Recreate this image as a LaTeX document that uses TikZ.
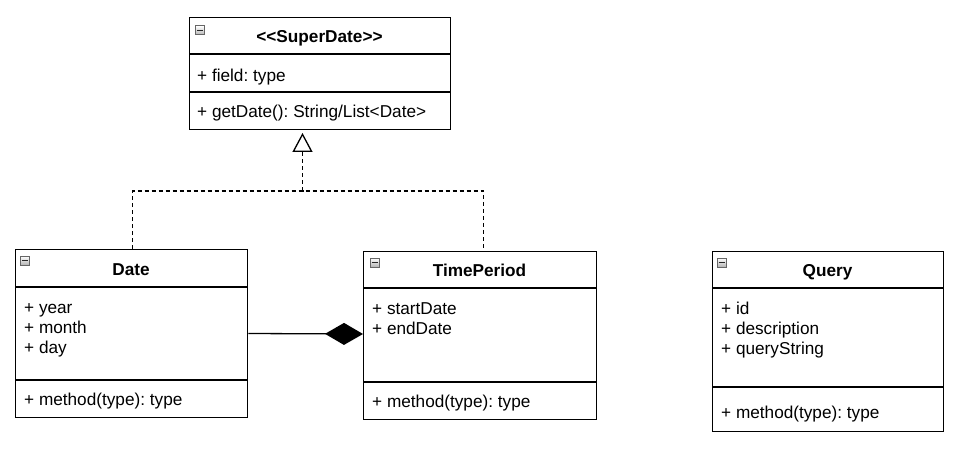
\documentclass[tikz,border=0pt]{standalone}
\usepackage{fontspec}
\setmainfont{Liberation Sans}
\usetikzlibrary{arrows.meta,calc}
\frenchspacing
\tikzset{
  classbox/.style={draw=black, line width=1.3pt, fill=white, anchor=north west, inner sep=0pt},
  compsep/.style={draw=black, line width=1.3pt},
  attr/.style={anchor=mid west, inner sep=0pt, text=black, font=\fontsize{17.2}{20}\selectfont},
  ctitle/.style={anchor=mid, inner sep=0pt, text=black, font=\fontsize{17.2}{20}\selectfont\bfseries},
  iconbox/.style={draw=black!60, line width=1pt, top color=white, bottom color=black!30, minimum size=9pt, inner sep=0pt, anchor=north west},
  iconbar/.style={draw=black!85, line width=1.8pt},
  dashline/.style={draw=black, line width=1.3pt, dash pattern=on 4pt off 3pt},
  compose/.style={draw=black, line width=1.3pt, -{Diamond[length=38pt,width=22pt,fill=black]}},
  realize/.style={dashline, -{Triangle[open,length=19pt,width=20pt,line width=1.3pt]}}
}
\newcommand\umlicon[3]{%
  \node[iconbox] (#1) at (#2,#3) {};
  \draw[iconbar] ($(#1.west)+(2,0)$) -- ($(#1.east)+(-2,0)$);
}
\begin{document}
\begin{tikzpicture}[x=1pt,y=-1pt]
\useasboundingbox[fill=white] (0,0) rectangle (971,449);

% SuperDate
\node[classbox, minimum width=261pt, minimum height=112pt] (super) at (189,17) {};
\draw[compsep] (super.west |- 0,54) -- (super.east |- 0,54);
\draw[compsep] (super.west |- 0,92) -- (super.east |- 0,92);
\umlicon{isuper}{194.5}{25.5}
\node[ctitle] (tsuper) at (319.5,40) {<{}<SuperDate>{}>};
\node[attr] (asuper) at (197,78.5) {+ field: type};
\node[attr] (msuper) at (197,115) {+ getDate(): String/List<Date>};

% Date
\node[classbox, minimum width=232pt, minimum height=168pt] (date) at (15,249) {};
\draw[compsep] (date.west |- 0,287) -- (date.east |- 0,287);
\draw[compsep] (date.west |- 0,380) -- (date.east |- 0,380);
\umlicon{idate}{19.5}{255.5}
\node[ctitle] (tdate) at (131,272.5) {Date};
\node[attr] (adate1) at (24,311) {+ year};
\node[attr] (adate2) at (24,331) {+ month};
\node[attr] (adate3) at (24,351) {+ day};
\node[attr] (mdate) at (24,402.5) {+ method(type): type};

% TimePeriod
\node[classbox, minimum width=233pt, minimum height=168pt] (tp) at (363,251) {};
\draw[compsep] (tp.west |- 0,288) -- (tp.east |- 0,288);
\draw[compsep] (tp.west |- 0,382) -- (tp.east |- 0,382);
\umlicon{itp}{369.5}{257.5}
\node[ctitle] (ttp) at (479.5,274) {TimePeriod};
\node[attr] (atp1) at (372,311.5) {+ startDate};
\node[attr] (atp2) at (372,331.5) {+ endDate};
\node[attr] (mtp) at (372,405) {+ method(type): type};

% Query
\node[classbox, minimum width=231pt, minimum height=180pt] (query) at (712,251) {};
\draw[compsep] (query.west |- 0,288) -- (query.east |- 0,288);
\draw[compsep] (query.west |- 0,387) -- (query.east |- 0,387);
\umlicon{iquery}{716.5}{257.5}
\node[ctitle] (tquery) at (827.5,274) {Query};
\node[attr] (aq1) at (721,311.5) {+ id};
\node[attr] (aq2) at (721,331.5) {+ description};
\node[attr] (aq3) at (721,351.5) {+ queryString};
\node[attr] (mq) at (721,416) {+ method(type): type};

% realization (dashed, hollow triangle)
\coordinate (jn) at (302.5,191);
\coordinate (tipend) at (302.5,133);
\draw[dashline] ($(date.north)+(1,0)$) |- (jn) -| ($(tp.north)+(3.5,0)$);
\draw[realize] (jn) -- (tipend);

% composition
\draw[compose] (date.east |- 0,333.5) -- (tp.west |- 0,334);
\end{tikzpicture}
\end{document}
